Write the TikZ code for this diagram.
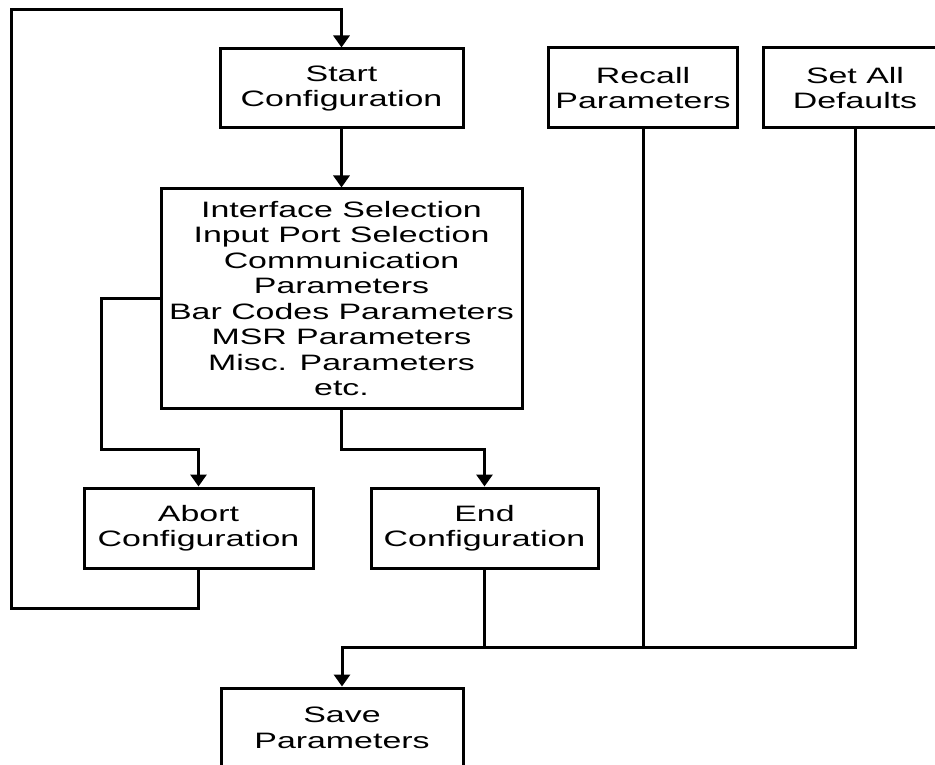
\documentclass[tikz,border=0pt]{standalone}
\usepackage{fontspec}
\setmainfont[FakeStretch=1.52]{Liberation Sans}
\usetikzlibrary{arrows.meta}
\begin{document}
\begin{tikzpicture}[x=1pt,y=-1pt,line width=3pt,
  box/.style={draw,align=center,inner sep=0pt,
    font=\fontsize{22.3}{25.5}\selectfont},
  arr/.style={-{Triangle[width=16pt,length=12pt]}}]
\useasboundingbox(0,0)rectangle(935,765);
\node[box,minimum width=243,minimum height=79](start)at(341.5,88.5)
  {Start\\Configuration};
\node[box,minimum width=189,minimum height=80](recall)at(643,88)
  {Recall\\Parameters};
\node[box,minimum width=184,minimum height=80](setall)at(855,88)
  {Set All\\Defaults};
\node[box,minimum width=361,minimum height=219](params)at(341.5,298.5)
  {Interface Selection\\Input Port Selection\\Communication\\Parameters\\
   Bar Codes Parameters\\MSR Parameters\\Misc. Parameters\\etc.};
\node[box,minimum width=229,minimum height=80](abort)at(198.5,528)
  {Abort\\Configuration};
\node[box,minimum width=227,minimum height=80](endcfg)at(484.5,528)
  {End\\Configuration};
\node[box,minimum width=242,minimum height=80](save)at(342,728)
  {Save\\Parameters};
\coordinate(loopbl)at(11,608);
\coordinate(looptl)at(11,10);
\coordinate(split)at(101,449);
\coordinate(merge)at(0,647);
\path[draw,arr](abort.south)|-(loopbl)--(looptl)-|(start.north);
\path[draw,arr](start.south)--(params.north);
\path[draw,arr](params.west)-|(split)-|(abort.north);
\path[draw,arr](params.south)|-(split-|endcfg.north)--(endcfg.north);
\path[draw](endcfg.south)--(endcfg.south|-merge);
\path[draw](recall.south)--(recall.south|-merge);
\path[draw,arr](setall.south)|-(merge-|save.north)--(save.north);
\end{tikzpicture}
\end{document}
